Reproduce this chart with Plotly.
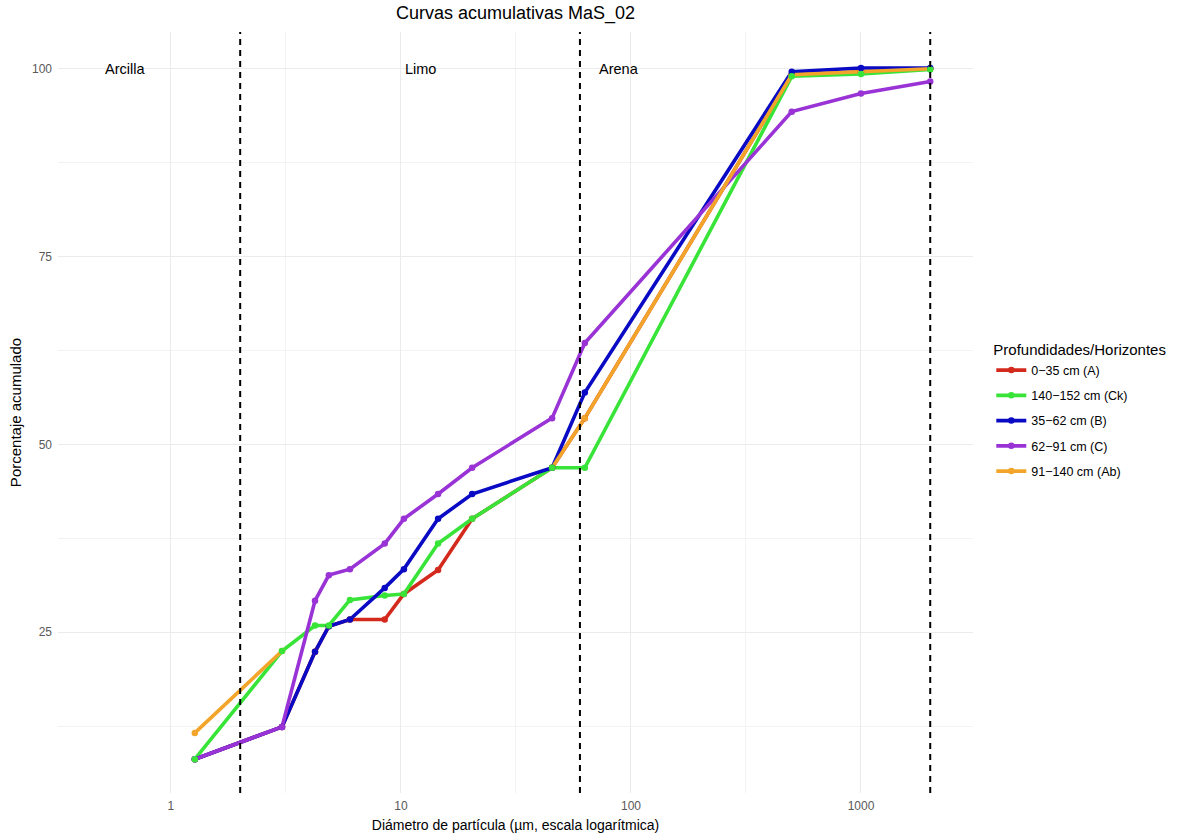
import math
import plotly.graph_objects as go

# ---------------- data ----------------
diam_um = [1.27, 3.04, 4.23, 4.86, 6.0, 8.5, 10.3, 14.5, 20.4, 45.4, 63, 500, 1000, 2000]

series_names = ["0−35 cm (A)", "140−152 cm (Ck)", "35−62 cm (B)", "62−91 cm (C)", "91−140 cm (Ab)"]

pct_A = [8.1, 12.4, 22.4, 25.8, 26.7, 26.7, 30.1, 33.3, 40.1, 46.9, 53.5, 99.2, 99.6, 100.0]
pct_Ck = [8.1, 22.5, 25.9, 25.9, 29.3, 29.9, 30.1, 36.8, 40.1, 46.9, 46.9, 99.0, 99.3, 99.9]
pct_B = [8.1, 12.4, 22.4, 25.8, 26.7, 30.9, 33.4, 40.1, 43.4, 46.9, 56.9, 99.6, 100.1, 100.1]
pct_C = [8.1, 12.4, 29.2, 32.6, 33.4, 36.8, 40.1, 43.4, 46.9, 53.5, 63.5, 94.3, 96.7, 98.3]
pct_Ab = [11.6, 22.5, None, None, None, None, None, None, None, 46.9, 53.5, 99.2, 99.6, 100.0]

boundaries_um = [2, 60, 2000]
zone_labels = ["Arcilla", "Limo", "Arena"]
zone_label_x = [0.63, 12.2, 89]
zone_label_y = 100

x_tick_vals = [1, 10, 100, 1000]
x_tick_text = ["1", "10", "100", "1000"]
y_tick_vals = [25, 50, 75, 100]
x_minor_vals = [0.316, 3.16, 31.6, 316, 3162]
y_minor_vals = [12.5, 37.5, 62.5, 87.5]

# ---------------- style ----------------
colors = ["#D42A1E", "#38E438", "#0A0AC4", "#9933D6", "#F2A52A"]
values = [pct_A, pct_Ck, pct_B, pct_C, pct_Ab]
FONT = "Liberation Sans, Arial, sans-serif"

fig = go.Figure()

# lines (drawn in factor order)
for name, vals, col in zip(series_names, values, colors):
    fig.add_trace(go.Scatter(x=diam_um, y=vals, mode="lines", line=dict(color=col, width=3.6),
                             connectgaps=False, showlegend=False, hoverinfo="skip"))

# points (green on top)
marker_order = [0, 4, 2, 3, 1]
for i in marker_order:
    fig.add_trace(go.Scatter(x=diam_um, y=values[i], mode="markers",
                             marker=dict(color=colors[i], size=6.5),
                             showlegend=False, name=series_names[i]))

# legend entries
for i, (name, col) in enumerate(zip(series_names, colors)):
    fig.add_trace(go.Scatter(x=[None], y=[None], mode="lines+markers", name=name,
                             legendgroup=f"g{i}",
                             line=dict(color=col, width=3.6), marker=dict(color=col, size=6.5)))

# dashed boundaries
for b in boundaries_um:
    fig.add_shape(type="line", xref="x", yref="paper", x0=b, x1=b, y0=0, y1=1,
                  line=dict(color="black", width=2, dash="6px,5px"), layer="above")

for lab, lx in zip(zone_labels, zone_label_x):
    fig.add_annotation(x=math.log10(lx), y=zone_label_y, xref="x", yref="y", text=lab,
                       showarrow=False, font=dict(family=FONT, size=14.5, color="black"),
                       xanchor="center", yanchor="middle")

grid = "#EBEBEB"
fig.update_layout(
    width=1181, height=834,
    margin=dict(l=58, r=208, t=32, b=41, autoexpand=False),
    paper_bgcolor="white", plot_bgcolor="white",
    font=dict(family=FONT),
    title=dict(text="Curvas acumulativas MaS_02", x=0.5, xref="paper", y=1 - 13 / 834,
               yref="container", yanchor="middle", xanchor="center",
               font=dict(family=FONT, size=18, color="black")),
    xaxis=dict(type="log", range=[-0.491, 3.487], tickvals=x_tick_vals, ticktext=x_tick_text,
               automargin=False,
               showgrid=True, gridcolor=grid, gridwidth=1.4, zeroline=False, showline=False,
               ticks="", ticklabelstandoff=4, tickfont=dict(family=FONT, size=12, color="#595959"),
               minor=dict(tickvals=x_minor_vals, showgrid=True, gridcolor="#F3F3F3", gridwidth=0.8, ticks=""),
               title=dict(text="Diámetro de partícula (µm, escala logarítmica)", standoff=8,
                          font=dict(family=FONT, size=14, color="black"))),
    yaxis=dict(range=[3.6, 104.9], tickvals=y_tick_vals, automargin=False,
               showgrid=True, gridcolor=grid, gridwidth=1.4, zeroline=False, showline=False,
               ticks="", ticklabelstandoff=5, tickfont=dict(family=FONT, size=12, color="#595959"),
               minor=dict(tickvals=y_minor_vals, showgrid=True, gridcolor="#F3F3F3", gridwidth=0.8, ticks=""),
               title=dict(text="Porcentaje acumulado", standoff=6,
                          font=dict(family=FONT, size=15, color="black"))),
    legend=dict(x=1.02, xanchor="left", y=0.502, yanchor="middle", traceorder="grouped",
                tracegroupgap=6, bgcolor="rgba(0,0,0,0)",
                title=dict(text="Profundidades/Horizontes", font=dict(family=FONT, size=15, color="black")),
                font=dict(family=FONT, size=12.5, color="black"), itemwidth=30),
    showlegend=True,
)

fig.write_html("out.html")
